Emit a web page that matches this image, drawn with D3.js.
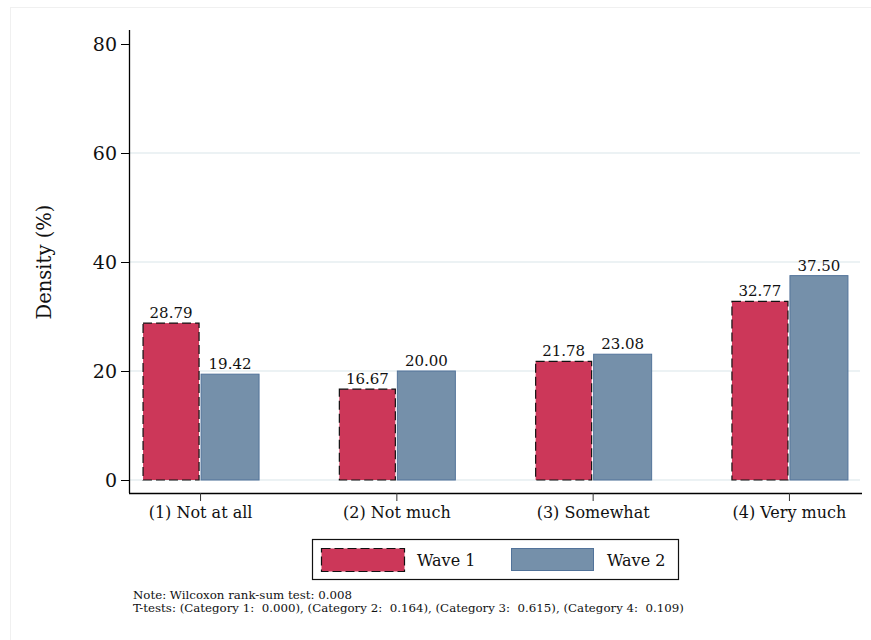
<!DOCTYPE html>
<html><head><meta charset="utf-8">
<script src="https://cdn.jsdelivr.net/npm/d3@7"></script>
<style>body{margin:0;background:#fff}svg{display:block}</style>
</head><body>
<svg id="c" width="871" height="640"></svg>
<script>
const categories = ["(1) Not at all", "(2) Not much", "(3) Somewhat", "(4) Very much"];
const wave1 = [28.79, 16.67, 21.78, 32.77];
const wave2 = [19.42, 20.00, 23.08, 37.50];
const seriesNames = ["Wave 1", "Wave 2"];
const yTicks = [0, 20, 40, 60, 80];
const yLabel = "Density (%)";
const notes = ["Note: Wilcoxon rank-sum test: 0.008",
  "T-tests: (Category 1:  0.000), (Category 2:  0.164), (Category 3:  0.615), (Category 4:  0.109)"];

const font = "'DejaVu Serif', 'Liberation Serif', serif";
const c1 = "#cc3759", c2 = "#7590aa", c2s = "#52739a";
const svg = d3.select("#c");

svg.append("rect").attr("x", 10.5).attr("y", 7.5).attr("width", 870).attr("height", 640)
  .attr("fill", "none").attr("stroke", "#f0f0f0");

const y = d3.scaleLinear().domain([0, 80]).range([480, 44]);
const x = d3.scalePoint().domain(categories).range([129, 860]).padding(0.362);
const bw = 56;

// gridlines
svg.append("g").selectAll("line").data(yTicks.filter(t => t < 80)).join("line")
  .attr("x1", 130).attr("x2", 860).attr("y1", d => y(d)).attr("y2", d => y(d))
  .attr("stroke", "#e6eef1").attr("stroke-width", 1.3);

// y axis
const ya = svg.append("g").attr("transform", "translate(129,0)")
  .call(d3.axisLeft(y).tickValues(yTicks).tickSize(8).tickPadding(4).tickFormat(d3.format("d")));
ya.select(".domain").attr("d", "M0.5,30V493").attr("stroke", "#000").attr("stroke-width", 1.3);
ya.selectAll(".tick line").attr("stroke", "#000").attr("x1", 0.5);
ya.selectAll(".tick text").attr("font-family", font).attr("font-size", 19).attr("fill", "#111");

// x axis
const xa = svg.append("g").attr("transform", "translate(0,493)")
  .call(d3.axisBottom(x).tickSize(8).tickPadding(6));
xa.select(".domain").attr("d", "M129,0.5H862").attr("stroke", "#000").attr("stroke-width", 1.3);
xa.selectAll(".tick line").attr("stroke", "#333");
xa.selectAll(".tick text").attr("font-family", font).attr("font-size", 16).attr("fill", "#111");

// bars
const g = svg.append("g");
g.selectAll("rect.w1").data(wave1).join("rect").attr("class", "w1")
  .attr("x", (d, i) => x(categories[i]) - bw - 1).attr("width", bw)
  .attr("y", d => y(d)).attr("height", d => y(0) - y(d))
  .attr("fill", c1).attr("stroke", "#111").attr("stroke-width", 1.2).attr("stroke-dasharray", "9,4");
g.selectAll("rect.w2").data(wave2).join("rect").attr("class", "w2")
  .attr("x", (d, i) => x(categories[i]) + 1).attr("width", bw + 2)
  .attr("y", d => y(d)).attr("height", d => y(0) - y(d))
  .attr("fill", c2).attr("stroke", c2s).attr("stroke-width", 1);

// value labels
g.selectAll("text.l1").data(wave1).join("text")
  .attr("x", (d, i) => x(categories[i]) - bw / 2 - 1).attr("y", d => y(d) - 5)
  .attr("text-anchor", "middle").attr("font-family", font).attr("font-size", 15).attr("fill", "#111")
  .text(d => d.toFixed(2));
g.selectAll("text.l2").data(wave2).join("text")
  .attr("x", (d, i) => x(categories[i]) + bw / 2 + 2).attr("y", d => y(d) - 5)
  .attr("text-anchor", "middle").attr("font-family", font).attr("font-size", 15).attr("fill", "#111")
  .text(d => d.toFixed(2));

// y label
svg.append("text").attr("transform", "translate(51,262) rotate(-90)")
  .attr("text-anchor", "middle").attr("font-family", font).attr("font-size", 19.5).attr("fill", "#111")
  .text(yLabel);

// legend
const lg = svg.append("g");
lg.append("rect").attr("x", 312.5).attr("y", 539.5).attr("width", 366).attr("height", 40)
  .attr("fill", "#fff").attr("stroke", "#111").attr("stroke-width", 1.2);
lg.append("rect").attr("x", 321.5).attr("y", 548.5).attr("width", 83).attr("height", 23)
  .attr("fill", c1).attr("stroke", "#111").attr("stroke-width", 1.2).attr("stroke-dasharray", "9,4");
lg.append("text").attr("x", 417).attr("y", 566).attr("font-family", font).attr("font-size", 16).attr("fill", "#111").text(seriesNames[0]);
lg.append("rect").attr("x", 511.5).attr("y", 548.5).attr("width", 82).attr("height", 22)
  .attr("fill", c2).attr("stroke", c2s);
lg.append("text").attr("x", 607).attr("y", 566).attr("font-family", font).attr("font-size", 16).attr("fill", "#111").text(seriesNames[1]);

// notes
svg.append("g").selectAll("text").data(notes).join("text")
  .attr("x", 133).attr("y", (d, i) => 599 + i * 13)
  .attr("font-family", font).attr("font-size", 11.8).attr("fill", "#111")
  .style("white-space", "pre").attr("xml:space", "preserve")
  .text(d => d);
</script>
</body></html>
